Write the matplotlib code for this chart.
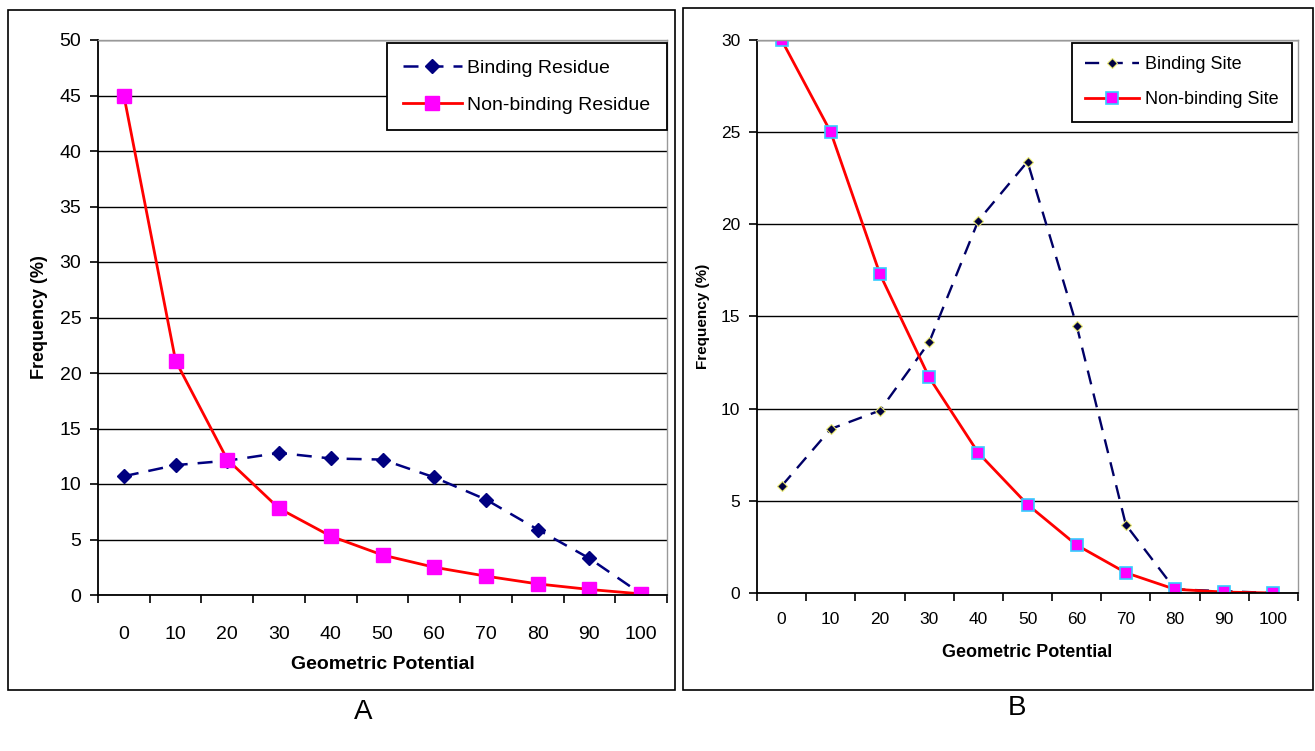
import matplotlib
matplotlib.use("Agg")
import matplotlib.pyplot as plt
from matplotlib.patches import Rectangle

plt.rcParams.update({"font.family": ["Liberation Sans", "DejaVu Sans"]})

# ---- data
potential = ["0", "10", "20", "30", "40", "50", "60", "70", "80", "90", "100"]
binding_residue = [10.7, 11.7, 12.1, 12.8, 12.3, 12.2, 10.6, 8.6, 5.9, 3.3, 0.1]
nonbinding_residue = [45.0, 21.1, 12.2, 7.8, 5.3, 3.6, 2.5, 1.7, 1.0, 0.5, 0.1]
binding_site = [5.8, 8.9, 9.9, 13.6, 20.2, 23.4, 14.5, 3.7, 0.2, 0.1, 0.0]
nonbinding_site = [30.0, 25.0, 17.3, 11.7, 7.6, 4.8, 2.6, 1.1, 0.2, 0.05, 0.0]

W, H = 1315, 751
fig = plt.figure(figsize=(W / 100, H / 100), dpi=100)


def box(x0, y0, x1, y1):
    # pixel rect (top-left origin) -> figure fraction
    return [x0 / W, 1 - y1 / H, (x1 - x0) / W, (y1 - y0) / H]


# panel frames
for x0, y0, x1, y1 in [(8, 10, 675, 690), (683, 8, 1313, 690)]:
    fig.add_artist(Rectangle((x0 / W, 1 - y1 / H), (x1 - x0) / W, (y1 - y0) / H,
                             transform=fig.transFigure, fill=False, ec="black", lw=1.2))


def panel(rect, yb, yr, labels, ymax, fs_tick, fs_lab, fs_ylab, fs_leg, xpad, xlpad,
          binding_style, red_style, legloc, legpad):
    ax = fig.add_axes(box(*rect))
    x = list(range(len(potential)))
    ax.set_xlim(-0.5, len(potential) - 0.5)
    ax.set_ylim(0, ymax)
    ax.set_yticks(range(0, ymax + 1, 5))
    ax.yaxis.grid(True, color="black", lw=1.0)
    ax.set_axisbelow(True)
    ax.set_xticks(x)
    ax.set_xticklabels(potential)
    ax.set_xticks([i - 0.5 for i in range(len(potential) + 1)], minor=True)
    ax.tick_params(axis="x", which="major", length=0, pad=xpad, labelsize=fs_tick)
    ax.tick_params(axis="x", which="minor", length=6, width=1.2, direction="out")
    ax.tick_params(axis="y", length=6, width=1.2, labelsize=fs_tick, pad=6)
    for s in ["top", "right"]:
        ax.spines[s].set_color("#999999")
        ax.spines[s].set_linewidth(1.0)
    for s in ["left", "bottom"]:
        ax.spines[s].set_linewidth(1.3)
    ax.plot(x, yb, label=labels[0], **binding_style)
    ax.plot(x, yr, label=labels[1], **red_style)
    ax.set_xlabel("Geometric Potential", fontsize=fs_lab, fontweight="bold", labelpad=xlpad)
    ax.set_ylabel("Frequency (%)", fontsize=fs_ylab, fontweight="bold", labelpad=8)
    leg = ax.legend(loc="upper right", bbox_to_anchor=legloc, bbox_transform=ax.transAxes,
                    borderaxespad=0, fontsize=fs_leg, frameon=True,
                    fancybox=False, edgecolor="black", framealpha=1, borderpad=legpad,
                    labelspacing=1.0, handlelength=3.0, handletextpad=0.3)
    leg.get_frame().set_linewidth(1.3)
    return ax


panel((98, 40, 667, 595), binding_residue, nonbinding_residue,
      ["Binding Residue", "Non-binding Residue"], 50, 14, 14, 13, 14, 22, 10,
      dict(color="#000080", ls=(0, (6, 4)), lw=1.8, marker="D", ms=7, mfc="#000080", mec="#000080"),
      dict(color="#ff0000", ls="-", lw=2.0, marker="s", ms=10, mfc="#ff00ff", mec="#ff00ff"),
      (1.0, 0.995), 0.85)

panel((757, 40, 1298, 593), binding_site, nonbinding_site,
      ["Binding Site", "Non-binding Site"], 30, 12.5, 13, 11, 13, 14, 12,
      dict(color="#000066", ls=(0, (6, 4)), lw=1.7, marker="D", ms=5.5, mfc="#000040", mec="#e8e870", mew=0.8),
      dict(color="#ff0000", ls="-", lw=2.0, marker="s", ms=9, mfc="#ff00ff", mec="#33ccff", mew=1.2),
      (0.989, 0.995), 0.75)

fig.text(363 / W, 1 - 712 / H, "A", fontsize=20, ha="center", va="center")
fig.text(1017 / W, 1 - 708 / H, "B", fontsize=20, ha="center", va="center")

fig.savefig("out.png", dpi=100, facecolor="white")
